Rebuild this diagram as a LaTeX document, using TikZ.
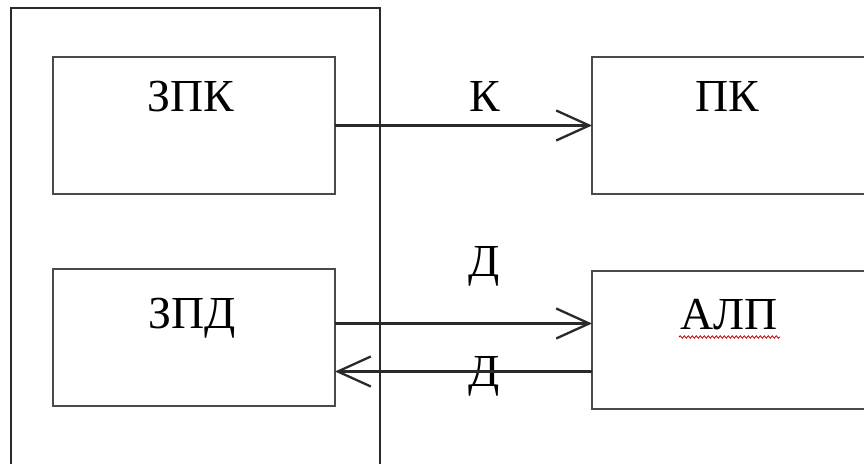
\documentclass[tikz,border=0pt]{standalone}
\usepackage{fontspec}
\setmainfont{Liberation Serif}
\usetikzlibrary{arrows.meta,decorations.pathmorphing}
\definecolor{boxgray}{HTML}{4A4A4A}
\definecolor{linegray}{HTML}{2A2A2A}
\begin{document}
\begin{tikzpicture}[x=1bp,y=-1bp,
  box/.style={draw=boxgray, line width=1.8bp, inner sep=0pt, outer sep=0pt, anchor=north west},
  outerbox/.style={draw=linegray, line width=2.6bp, inner sep=0pt, outer sep=0pt, anchor=north west},
  lbl/.style={font=\fontsize{46}{46}\selectfont, inner sep=0pt, anchor=base, text=black},
  conn/.style={draw=linegray, line width=2.3bp, -{Straight Barb[length=33bp,width=30bp,line width=2.3bp]}}]
\clip (0,0) rectangle (864,464);
\fill[white] (0,0) rectangle (864,464);
% boxes
\node[outerbox, minimum width=369bp, minimum height=520bp] (outer) at (11,8) {};
\node[box, minimum width=282bp, minimum height=137bp] (zpk) at (53,57) {};
\node[box, minimum width=282bp, minimum height=137bp] (zpd) at (53,269) {};
\node[box, minimum width=320bp, minimum height=137bp] (pk) at (592,57) {};
\node[box, minimum width=320bp, minimum height=138bp] (alp) at (592,271) {};
% texts
\node[lbl] (tzpk) at (191,112) {ЗПК};
\node[lbl] (tzpd) at (192,329) {ЗПД};
\node[lbl] (tpk) at (727,112) {ПК};
\node[lbl] (talp) at (729,330) {АЛП};
\node[lbl] (tk) at (485,112) {К};
\node[lbl] (td1) at (484,277) {Д};
\node[lbl] (td2) at (484,387) {Д};
% red wavy underline
\draw[red!75!black, line width=0.8bp, decorate, decoration={snake, amplitude=1.2bp, segment length=4bp}]
  ([xshift=-50bp,yshift=-7bp]talp.base) -- ([xshift=51bp,yshift=-7bp]talp.base);
% connectors
\draw[conn] (zpk.east) -- (zpk.east -| pk.west);
\draw[conn] ([yshift=14bp]zpd.east) -- ([yshift=14bp]zpd.east -| alp.west);
\draw[conn] ([yshift=-34bp]zpd.east -| alp.west) -- ([yshift=-34bp]zpd.east);
\end{tikzpicture}
\end{document}
